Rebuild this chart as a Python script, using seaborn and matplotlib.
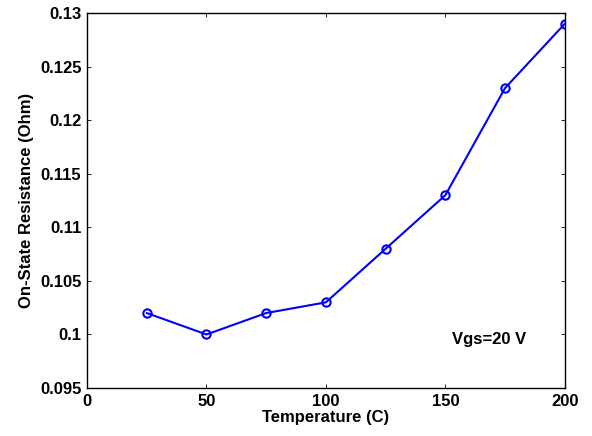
import numpy as np
import pandas as pd
import matplotlib.pyplot as plt
import seaborn as sns

temperature = [25, 50, 75, 100, 125, 150, 175, 200]
resistance = [0.102, 0.100, 0.102, 0.103, 0.108, 0.113, 0.123, 0.129]
xticks = [0, 50, 100, 150, 200]
yticks = [0.095, 0.1, 0.105, 0.11, 0.115, 0.12, 0.125, 0.13]
ytick_labels = ["0.095", "0.1", "0.105", "0.11", "0.115", "0.12", "0.125", "0.13"]

df = pd.DataFrame({"Temperature": temperature, "Resistance": resistance})

sns.set_style("ticks", {"xtick.direction": "in", "ytick.direction": "in",
                        "text.color": "black", "axes.labelcolor": "black",
                        "xtick.color": "black", "ytick.color": "black"})
plt.rcParams['font.family'] = ['Liberation Sans', 'DejaVu Sans']
plt.rcParams['font.weight'] = 'bold'

fig = plt.figure(figsize=(5.92, 4.36), dpi=100)
ax = fig.add_axes([0.147, 0.110, 0.807, 0.860])

sns.lineplot(data=df, x="Temperature", y="Resistance", ax=ax, color="#0000ff",
             marker="o", markersize=6, markerfacecolor="none",
             markeredgecolor="#0000ff", markeredgewidth=1.5, linewidth=1.5)

ax.set_xlim(0, 200)
ax.set_ylim(0.095, 0.13)
ax.set_xticks(xticks)
ax.set_xticklabels([str(t) for t in xticks])
ax.set_yticks(yticks)
ax.set_yticklabels(ytick_labels)
ax.tick_params(axis="both", which="both", direction="in", length=3, width=0.6,
               top=True, right=True, labelsize=12, pad=4, colors="black")
for lab in ax.get_xticklabels() + ax.get_yticklabels():
    lab.set_fontweight("bold")
for s in ax.spines.values():
    s.set_linewidth(1.0)
    s.set_color("black")

ax.set_xlabel("Temperature (C)", fontsize=12, fontweight="bold", labelpad=1, color="black")
ax.set_ylabel("On-State Resistance (Ohm)", fontsize=12, fontweight="bold", labelpad=4, color="black")
ax.text(153, 0.0995, "Vgs=20 V", fontsize=12, fontweight="bold", va="center", ha="left", color="black")

fig.savefig("out.png", dpi=100)
